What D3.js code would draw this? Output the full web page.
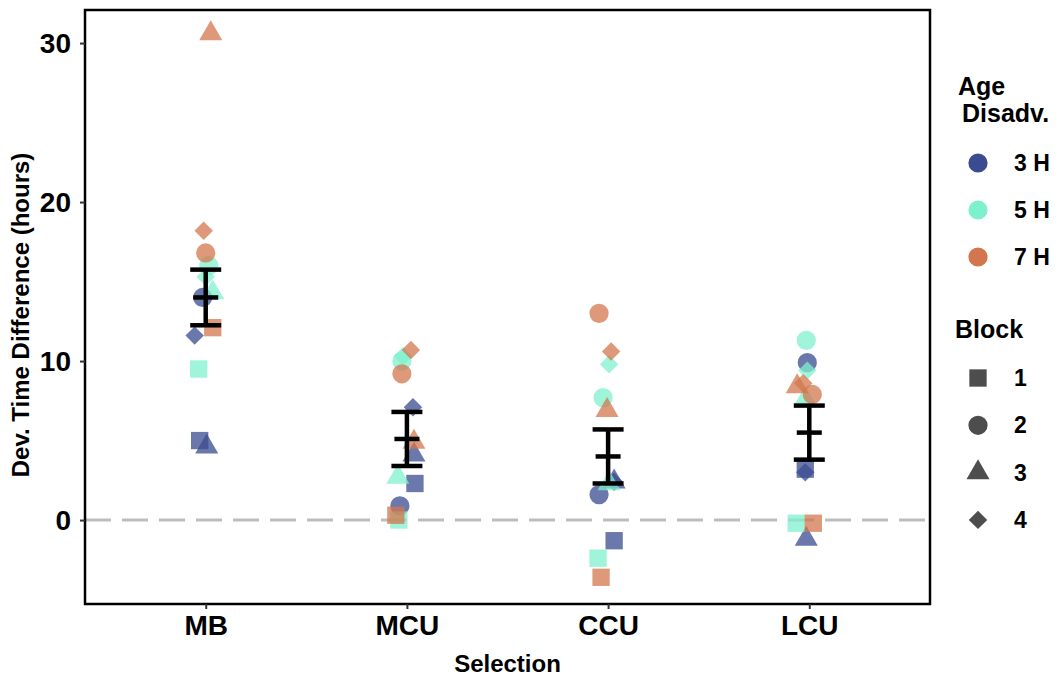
<!DOCTYPE html>
<html>
<head>
<meta charset="utf-8">
<script src="https://cdn.jsdelivr.net/npm/d3@7"></script>
<style>
  body { margin: 0; background: #fff; }
  text { font-family: "Liberation Sans", Arial, sans-serif; font-weight: bold; }
</style>
</head>
<body>
<script>
// categories
let selections = ['MB', 'MCU', 'CCU', 'LCU']
let ageGroups = ['3 H', '5 H', '7 H']
let blocks = ['1', '2', '3', '4']
let yTicks = [0, 10, 20, 30]

// values per selection, one entry per block (1..4)
let age3H = [[5.0, 14.0, 4.6, 11.6], [2.3, 0.9, 4.1, 7.1], [-1.3, 1.6, 2.4, 2.4], [3.2, 9.9, -1.2, 3.0]]
let age5H = [[9.5, 16.0, 14.3, 15.3], [0.0, 10.0, 2.7, 10.3], [-2.4, 7.7, 2.3, 9.8], [-0.2, 11.3, 7.6, 9.4]]
let age7H = [[12.1, 16.8, 30.6, 18.2], [0.3, 9.2, 4.9, 10.7], [-3.6, 13.0, 6.9, 10.6], [-0.2, 7.9, 8.4, 8.6]]

// horizontal jitter (in category steps)
let jit3H = [[-0.03, -0.015, 0.005, -0.055], [0.04, -0.035, 0.035, 0.03], [0.03, -0.045, 0.03, 0.03], [-0.02, -0.01, -0.015, -0.02]]
let jit5H = [[-0.035, 0.015, 0.035, 0.0], [-0.04, -0.025, -0.045, -0.02], [-0.05, -0.025, 0.005, 0.005], [-0.065, -0.015, -0.02, -0.01]]
let jit7H = [[0.035, 0.0, 0.025, -0.01], [-0.055, -0.025, 0.035, 0.02], [-0.035, -0.045, -0.005, 0.015], [0.02, 0.015, -0.06, -0.03]]

// summary: mean +/- se
let meanVals = [14.0, 5.1, 4.0, 5.5]
let seVals = [1.75, 1.7, 1.7, 1.7]

let colors = ['#3a4b8f', '#7ff0cc', '#d3754d']

var W = 1058, H = 677
var margin = { top: 10, right: 128, bottom: 73, left: 85 }

var svg = d3.select('body').append('svg')
    .attr('width', W)
    .attr('height', H)

var x = d3.scalePoint()
    .domain(selections)
    .range([margin.left, W - margin.right])
    .padding(0.6)

var y = d3.scaleLinear()
    .domain([-5.28, 32.08])
    .range([H - margin.bottom, margin.top])

var step = x.step()

var shapes = {
    '1': d3.symbol().type(d3.symbolSquare).size(300),
    '2': d3.symbol().type(d3.symbolCircle).size(290),
    '3': d3.symbol().type(d3.symbolTriangle).size(230),
    '4': d3.symbol().type(d3.symbolSquare).size(170)
}

// zero line
svg.append('line')
    .attr('x1', margin.left).attr('x2', W - margin.right)
    .attr('y1', y(0)).attr('y2', y(0))
    .attr('stroke', '#bdbdbd')
    .attr('stroke-width', 3)
    .attr('stroke-dasharray', '26 11')

// points
let points = []
let groups = [age3H, age5H, age7H]
let jits = [jit3H, jit5H, jit7H]
groups.forEach((g, a) => {
    selections.forEach((s, i) => {
        blocks.forEach((b, k) => {
            points.push({ sel: s, age: a, block: b, value: g[i][k], jit: jits[a][i][k] })
        })
    })
})

svg.selectAll('.pt')
    .data(points)
    .enter()
    .append('path')
    .attr('class', 'pt')
    .attr('d', d => shapes[d.block]())
    .attr('transform', d => 'translate(' + (x(d.sel) + d.jit * step) + ',' + y(d.value) + ')' + (d.block == '4' ? ' rotate(45)' : ''))
    .attr('fill', d => colors[d.age])
    .attr('fill-opacity', 0.75)

// error bars
let summary = selections.map((s, i) => ({ sel: s, mean: meanVals[i], se: seVals[i] }))
var eb = svg.selectAll('.eb')
    .data(summary)
    .enter()
    .append('g')
    .attr('class', 'eb')
    .attr('stroke', '#000')
    .attr('stroke-width', 4.5)

eb.append('line')
    .attr('x1', d => x(d.sel)).attr('x2', d => x(d.sel))
    .attr('y1', d => y(d.mean - d.se)).attr('y2', d => y(d.mean + d.se))
eb.append('line')
    .attr('x1', d => x(d.sel) - 15.5).attr('x2', d => x(d.sel) + 15.5)
    .attr('y1', d => y(d.mean + d.se)).attr('y2', d => y(d.mean + d.se))
eb.append('line')
    .attr('x1', d => x(d.sel) - 15.5).attr('x2', d => x(d.sel) + 15.5)
    .attr('y1', d => y(d.mean - d.se)).attr('y2', d => y(d.mean - d.se))
eb.append('line')
    .attr('x1', d => x(d.sel) - 12.5).attr('x2', d => x(d.sel) + 12.5)
    .attr('y1', d => y(d.mean)).attr('y2', d => y(d.mean))

// panel border
svg.append('rect')
    .attr('x', margin.left).attr('y', margin.top)
    .attr('width', W - margin.right - margin.left)
    .attr('height', H - margin.bottom - margin.top)
    .attr('fill', 'none')
    .attr('stroke', '#000')
    .attr('stroke-width', 2.5)

// axes
var yAxis = d3.axisLeft(y).tickValues(yTicks).tickSize(5).tickPadding(9)
var gy = svg.append('g')
    .attr('transform', 'translate(' + margin.left + ',0)')
    .call(yAxis)
gy.select('.domain').remove()
gy.selectAll('line').attr('stroke', '#333').attr('stroke-width', 2)
gy.selectAll('text').attr('font-size', 28).attr('fill', '#000')

var xAxis = d3.axisBottom(x).tickSize(5).tickPadding(6)
var gx = svg.append('g')
    .attr('transform', 'translate(0,' + (H - margin.bottom) + ')')
    .call(xAxis)
gx.select('.domain').remove()
gx.selectAll('line').attr('stroke', '#333').attr('stroke-width', 2)
gx.selectAll('text').attr('font-size', 28).attr('fill', '#000')

svg.append('text')
    .attr('x', (margin.left + W - margin.right) / 2)
    .attr('y', 672)
    .attr('text-anchor', 'middle')
    .attr('font-size', 24)
    .text('Selection')

svg.append('text')
    .attr('transform', 'translate(29,' + y(12.9) + ') rotate(-90)')
    .attr('text-anchor', 'middle')
    .attr('font-size', 24)
    .text('Dev. Time Difference (hours)')

// legends
var lg = svg.append('g')
lg.append('text').attr('x', 958).attr('y', 95).attr('font-size', 25).text('Age')
lg.append('text').attr('x', 962).attr('y', 122).attr('font-size', 25).text('Disadv.')
ageGroups.forEach((a, i) => {
    var yy = 163 + i * 47
    lg.append('path')
        .attr('d', d3.symbol().type(d3.symbolCircle).size(290)())
        .attr('transform', 'translate(978,' + yy + ')')
        .attr('fill', colors[i])
    lg.append('text').attr('x', 1014).attr('y', yy + 8).attr('font-size', 23).text(a)
})
lg.append('text').attr('x', 955).attr('y', 338).attr('font-size', 25).text('Block')
blocks.forEach((b, i) => {
    var yy = 378 + i * 47.3
    lg.append('path')
        .attr('d', shapes[b]())
        .attr('transform', 'translate(978,' + yy + ')' + (b == '4' ? ' rotate(45)' : ''))
        .attr('fill', '#4d4d4d')
    lg.append('text').attr('x', 1014).attr('y', yy + 8).attr('font-size', 23).text(b)
})
</script>
</body>
</html>
